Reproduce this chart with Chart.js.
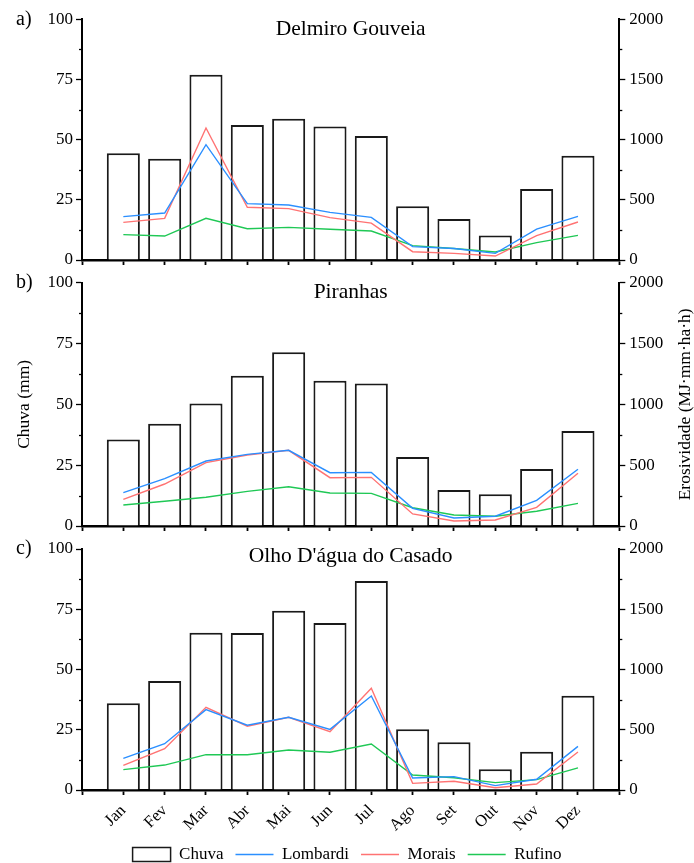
<!DOCTYPE html>
<html><head><meta charset="utf-8">
<script src="https://cdn.jsdelivr.net/npm/chart.js@4.4.1/dist/chart.umd.min.js"></script>
<style>
html,body{margin:0;padding:0;background:#fff;overflow:hidden;width:694px;height:863px;position:relative;}
canvas{position:absolute;left:0;}
</style></head><body>
<canvas id="ca" width="694" height="268" style="top:0px;width:694px;height:268px"></canvas>
<canvas id="cb" width="694" height="264" style="top:270px;width:694px;height:264px"></canvas>
<canvas id="cc" width="694" height="338" style="top:535px;width:694px;height:338px"></canvas>
<script>
// ---- data ----
const months = ['Jan','Fev','Mar','Abr','Mai','Jun','Jul','Ago','Set','Out','Nov','Dez'];
const stations = ['Delmiro Gouveia', 'Piranhas', "Olho D'água do Casado"];
const panelLetters = ['a)', 'b)', 'c)'];
const seriesNames = ['Chuva', 'Lombardi', 'Morais', 'Rufino'];
const leftAxisTitle = 'Chuva (mm)';
const rightAxisTitle = 'Erosividade (MJ·mm·ha·h)';
const leftTicks = [0, 25, 50, 75, 100];
const rightTicks = [0, 500, 1000, 1500, 2000];

const chuvaDelmiro    = [44.3, 42.1, 77.0, 56.1, 58.7, 55.5, 51.5, 22.3, 17.0, 10.2, 29.5, 43.3];
const lombardiDelmiro = [360, 390, 958, 468, 457, 396, 354, 111, 95, 55, 257, 363];
const moraisDelmiro   = [313, 346, 1097, 438, 427, 352, 307, 69, 55, 33, 202, 316];
const rufinoDelmiro   = [211, 199, 346, 260, 271, 255, 241, 119, 95, 66, 144, 205];

const chuvaPiranhas    = [35.6, 42.0, 50.4, 61.8, 71.4, 59.7, 58.6, 28.4, 14.8, 13.0, 23.4, 39.0];
const lombardiPiranhas = [274, 389, 534, 589, 622, 438, 441, 145, 66, 80, 211, 466];
const moraisPiranhas   = [219, 345, 521, 584, 622, 397, 400, 99, 41, 49, 153, 433];
const rufinoPiranhas   = [173, 203, 236, 285, 323, 271, 268, 150, 90, 80, 121, 186];

const chuvaOlho    = [36.0, 45.2, 65.3, 65.1, 74.4, 69.3, 86.7, 25.2, 19.8, 8.6, 15.9, 39.1];
const lombardiOlho = [263, 384, 667, 538, 603, 503, 780, 100, 111, 36, 89, 362];
const moraisOlho   = [205, 343, 686, 529, 603, 484, 844, 55, 72, 19, 50, 315];
const rufinoOlho   = [169, 207, 293, 293, 332, 313, 382, 124, 102, 61, 86, 183];

// ---- styling ----
const FONT = "'Liberation Serif', 'Times New Roman', serif";
Chart.defaults.font.family = FONT;
Chart.defaults.color = '#000';
const COLORS = { bar: '#1a1a1a', lombardi: '#2b8fff', morais: '#ff7373', rufino: '#1fc855' };

const pad = arr => [null, ...arr, null];
const labels = ['', ...months, ''];

const decoPlugin = {
  id: 'deco',
  afterDraw(chart, args, o) {
    const { ctx, chartArea: a } = chart;
    ctx.save();
    ctx.fillStyle = '#000';
    ctx.textAlign = 'left';
    ctx.textBaseline = 'alphabetic';
    ctx.font = '20px ' + FONT;
    ctx.fillText(o.letter, 16, a.top + o.letterDy);
    ctx.textAlign = 'center';
    ctx.font = '21.5px ' + FONT;
    ctx.fillText(o.title, (a.left + a.right) / 2, a.top + o.titleDy);
    // minor ticks at midpoints between major ticks
    ctx.strokeStyle = '#000';
    ctx.lineWidth = 1.3;
    const drawMinor = (scale, side) => {
      const t = scale.ticks;
      for (let i = 0; i < t.length - 1; i++) {
        const p = Math.round(scale.getPixelForValue((t[i].value + t[i + 1].value) / 2)) + 0.5;
        ctx.beginPath();
        if (side === 'left') { ctx.moveTo(a.left, p); ctx.lineTo(a.left - 3, p); }
        else { ctx.moveTo(a.right, p); ctx.lineTo(a.right + 3, p); }
        ctx.stroke();
      }
    };
    drawMinor(chart.scales.y, 'left');
    drawMinor(chart.scales.y2, 'right');
    if (o.rightTitle) {
      ctx.translate(685.5, (a.top + a.bottom) / 2);
      ctx.rotate(-Math.PI / 2);
      ctx.textAlign = 'center';
      ctx.textBaseline = 'middle';
      ctx.font = '17.5px ' + FONT;
      ctx.fillText(o.rightTitle, 0, 0);
    }
    ctx.restore();
  }
};

function makePanel(id, idx, chuva, lomb, mor, ruf, cfg) {
  const canvas = document.getElementById(id);
  const datasets = [
    { type: 'bar', label: seriesNames[0], data: pad(chuva), yAxisID: 'y',
      backgroundColor: '#ffffff', borderColor: COLORS.bar, borderWidth: 2,
      barPercentage: 0.8, categoryPercentage: 1.0, order: 2 },
    { type: 'line', label: seriesNames[1], data: pad(lomb), yAxisID: 'y2',
      borderColor: COLORS.lombardi, backgroundColor: COLORS.lombardi, borderWidth: 1.4, pointRadius: 0, tension: 0, order: 1 },
    { type: 'line', label: seriesNames[2], data: pad(mor), yAxisID: 'y2',
      borderColor: COLORS.morais, backgroundColor: COLORS.morais, borderWidth: 1.4, pointRadius: 0, tension: 0, order: 1 },
    { type: 'line', label: seriesNames[3], data: pad(ruf), yAxisID: 'y2',
      borderColor: COLORS.rufino, backgroundColor: COLORS.rufino, borderWidth: 1.4, pointRadius: 0, tension: 0, order: 1 }
  ];
  return new Chart(canvas, {
    type: 'bar',
    data: { labels, datasets },
    plugins: [decoPlugin],
    options: {
      responsive: false, animation: false, devicePixelRatio: 1,
      layout: { padding: { top: cfg.padTop, left: 0, right: 0, bottom: 0 } },
      plugins: {
        tooltip: { enabled: false },
        deco: { letter: panelLetters[idx], title: stations[idx], letterDy: cfg.letterDy, titleDy: cfg.titleDy, rightTitle: cfg.rightTitle },
        legend: cfg.legend ? {
          display: true, position: 'bottom',
          labels: {
            usePointStyle: true, pointStyleWidth: 38, boxHeight: 14, padding: 12,
            font: { size: 17, family: FONT }, color: '#000',
            generateLabels: (chart) => chart.data.datasets.map((ds, i) => ({
              text: ds.label, datasetIndex: i, hidden: false, fontColor: '#000',
              fillStyle: ds.type === 'line' ? ds.borderColor : '#ffffff',
              strokeStyle: ds.borderColor,
              lineWidth: 1.5,
              pointStyle: ds.type === 'line' ? 'line' : 'rect'
            }))
          }
        } : { display: false }
      },
      scales: {
        x: {
          type: 'category', offset: false,
          grid: { offset: false, drawOnChartArea: false, drawTicks: true, tickLength: 5, tickColor: '#000', tickWidth: 1.8, color: '#000' },
          border: { display: true, color: '#000', width: 2.5 },
          ticks: cfg.xLabels ? { display: true, autoSkip: false, minRotation: 45, maxRotation: 45, padding: 6, font: { size: 16.5, family: FONT }, color: '#000' } : { display: false, autoSkip: false },
          afterFit: (s) => {
            s.paddingLeft = 0; s.paddingRight = 0;
            if (cfg.xLabels) {
              const lh = s.chart.legend ? s.chart.legend.height : 0;
              s.height = cfg.bottomSpace - lh;
            } else {
              s.height = cfg.bottomSpace;
            }
          }
        },
        y: {
          position: 'left', min: 0, max: 100,
          afterBuildTicks: (s) => { s.ticks = leftTicks.map(v => ({ value: v })); },
          ticks: { padding: 3, font: { size: 17, family: FONT }, color: '#000', callback: (v) => String(v) },
          grid: { drawOnChartArea: false, drawTicks: true, tickLength: 6, tickColor: '#000', tickWidth: 1.3, color: '#000' },
          border: { display: true, color: '#000', width: 2 },
          title: { display: !!cfg.leftTitle, text: leftAxisTitle, font: { size: 17.5, family: FONT }, color: '#000', padding: { top: 13.5, bottom: 0 } },
          afterFit: (s) => { s.width = 82; s.paddingTop = 0; s.paddingBottom = 0; }
        },
        y2: {
          position: 'right', min: 0, max: 2000,
          afterBuildTicks: (s) => { s.ticks = rightTicks.map(v => ({ value: v })); },
          ticks: { padding: 4, font: { size: 17, family: FONT }, color: '#000', callback: (v) => String(v) },
          grid: { drawOnChartArea: false, drawTicks: true, tickLength: 6, tickColor: '#000', tickWidth: 1.3, color: '#000' },
          border: { display: true, color: '#000', width: 2 },
          afterFit: (s) => { s.width = 694 - 619.3; s.paddingTop = 0; s.paddingBottom = 0; }
        }
      }
    }
  });
}

makePanel('ca', 0, chuvaDelmiro, lombardiDelmiro, moraisDelmiro, rufinoDelmiro,
  { padTop: 19.3, bottomSpace: 8, letterDy: 6, titleDy: 15.7 });
makePanel('cb', 1, chuvaPiranhas, lombardiPiranhas, moraisPiranhas, rufinoPiranhas,
  { padTop: 12.7, bottomSpace: 8, letterDy: 4.8, titleDy: 15.6, leftTitle: true, rightTitle: rightAxisTitle });
makePanel('cc', 2, chuvaOlho, lombardiOlho, moraisOlho, rufinoOlho,
  { padTop: 14, bottomSpace: 338 - 14 - 241, letterDy: 4.5, titleDy: 12.5, xLabels: true, legend: true });
</script>
</body></html>
